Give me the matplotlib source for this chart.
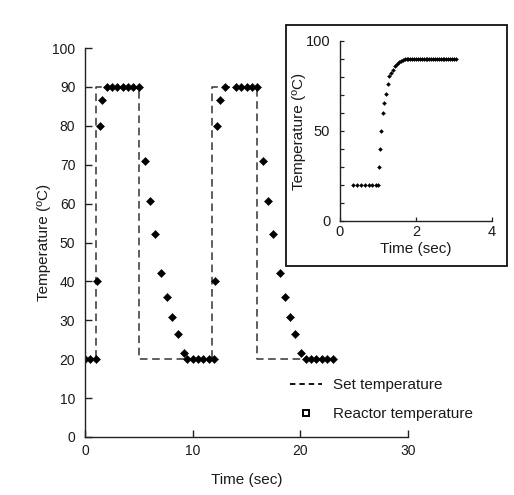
import matplotlib
matplotlib.use("Agg")
import matplotlib.pyplot as plt
from matplotlib.patches import Rectangle
from matplotlib.lines import Line2D

plt.rcParams['font.family'] = ['Liberation Sans', 'DejaVu Sans']
plt.rcParams['font.size'] = 10

# ---- data ----
set_time = [0, 1.0, 1.0, 5.0, 5.0, 11.8, 11.8, 16.0, 16.0, 23.0]
set_temp = [20, 20, 90, 90, 20, 20, 90, 90, 20, 20]

reactor_time = [0, 0.5, 1.0, 1.1, 1.4, 1.55,
                2.0, 2.5, 3.0, 3.5, 4.0, 4.5, 5.0,
                5.6, 6.05, 6.5, 7.1, 7.65, 8.1, 8.6, 9.15,
                9.5, 10.0, 10.5, 11.0, 11.5, 12.0,
                12.1, 12.25, 12.55, 13.0,
                14.0, 14.5, 15.0, 15.5, 16.0,
                16.5, 17.0, 17.45, 18.1, 18.6, 19.05, 19.5, 20.1,
                20.5, 21.0, 21.5, 22.0, 22.5, 23.0]
reactor_temp = [20, 20, 20, 40, 80, 86.6,
                90, 90, 90, 90, 90, 90, 90,
                71, 60.7, 52.2, 42.2, 36.1, 30.8, 26.4, 21.7,
                20, 20, 20, 20, 20, 20,
                40, 80, 86.6, 90,
                90, 90, 90, 90, 90,
                71, 60.7, 52.2, 42.2, 36.1, 30.9, 26.4, 21.5,
                20, 20, 20, 20, 20, 20]

inset_time = [0.35, 0.45, 0.55, 0.65, 0.75, 0.85, 0.95, 1.0,
              1.02, 1.05, 1.08, 1.12, 1.16, 1.2, 1.25, 1.3, 1.35, 1.4,
              1.45, 1.5, 1.55, 1.6, 1.65, 1.7, 1.75,
              1.8, 1.85, 1.9, 1.95, 2.0, 2.05, 2.1, 2.15, 2.2, 2.25,
              2.3, 2.35, 2.4, 2.45, 2.5, 2.55, 2.6, 2.65, 2.7, 2.75,
              2.8, 2.85, 2.9, 2.95, 3.0, 3.05]
inset_temp = [20, 20, 20, 20, 20, 20, 20, 20,
              30, 40, 50, 60, 65.5, 70.5, 76, 80.5, 82, 84,
              86, 87.5, 88.3, 89, 89.5, 89.8, 90,
              90, 90, 90, 90, 90, 90, 90, 90, 90, 90,
              90, 90, 90, 90, 90, 90, 90, 90, 90, 90,
              90, 90, 90, 90, 90, 90]

main_yticks = [0, 10, 20, 30, 40, 50, 60, 70, 80, 90, 100]
main_xticks = [0, 10, 20, 30]
inset_xticks = [0, 2, 4]
inset_yticks = [0, 50, 100]
inset_yminor = [10, 20, 30, 40, 60, 70, 80, 90]

W, H = 514, 495
fig = plt.figure(figsize=(W / 100, H / 100), dpi=100)
fig.patch.set_facecolor('white')

def fr(x0, y0, x1, y1):
    return [x0 / W, 1 - y1 / H, (x1 - x0) / W, (y1 - y0) / H]

txt = '#1a1a1a'
lab_fs = 11
ax = fig.add_axes(fr(85, 48, 408, 437))
ax.plot(set_time, set_temp, color='#333333', lw=1.1, linestyle=(0, (5, 3)))
ax.plot(reactor_time, reactor_temp, linestyle='none', marker='D', ms=4.4,
        color='black', mew=0.4)
ax.set_xlim(0, 30)
ax.set_ylim(0, 100)
ax.set_xticks(main_xticks)
ax.set_yticks(main_yticks)
for s in ['top', 'right']:
    ax.spines[s].set_visible(False)
for s in ['left', 'bottom']:
    ax.spines[s].set_color('#222222')
    ax.spines[s].set_linewidth(1.0)
ax.tick_params(direction='in', length=5, width=1.0, color='#222222', labelcolor=txt, labelsize=10)
ax.tick_params(axis='y', pad=7)
ax.tick_params(axis='x', pad=5)
ax.set_xlabel('Time (sec)', color=txt, fontsize=lab_fs, labelpad=11)
ax.set_ylabel('Temperature (ºC)', color=txt, fontsize=lab_fs, labelpad=1.0)

handles = [Line2D([], [], color='black', lw=1.3, linestyle=(0, (3, 2.2))),
           Line2D([], [], linestyle='none', marker='s', ms=4.5, mfc='white',
                  mec='black', mew=1.4)]
fig.legend(handles, ['Set temperature', 'Reactor temperature'],
           loc='upper left', bbox_to_anchor=(290 / W, 1 - 378 / H),
           frameon=False, borderpad=0, borderaxespad=0, handlelength=2.1,
           handletextpad=0.7, labelspacing=1.0, fontsize=11, labelcolor=txt)

box = Rectangle((286 / W, 1 - 266 / H), (507 - 286) / W, (266 - 25) / H,
                transform=fig.transFigure, facecolor='white', edgecolor='#111111',
                lw=1.3, zorder=1)
fig.add_artist(box)

ia = fig.add_axes(fr(340, 41, 492, 221))
ia.set_zorder(2)
ia.plot(inset_time, inset_temp, linestyle='none', marker='D', ms=2.0,
        color='black', mew=0.3)
ia.set_xlim(0, 4)
ia.set_ylim(0, 100)
ia.set_xticks(inset_xticks)
ia.set_yticks(inset_yticks)
ia.set_yticks(inset_yminor, minor=True)
for s in ['top', 'right']:
    ia.spines[s].set_visible(False)
for s in ['left', 'bottom']:
    ia.spines[s].set_color('#222222')
    ia.spines[s].set_linewidth(1.0)
ia.tick_params(which='both', direction='in', length=3, width=0.9, color='#222222',
               labelcolor=txt, labelsize=10.5)
ia.tick_params(axis='y', pad=7)
ia.tick_params(axis='x', pad=3)
ia.set_xlabel('Time (sec)', color=txt, fontsize=lab_fs, labelpad=2)
ia.set_ylabel('Temperature (ºC)', color=txt, fontsize=lab_fs, labelpad=0.0)

fig.savefig('out.png', dpi=100, facecolor='white')
